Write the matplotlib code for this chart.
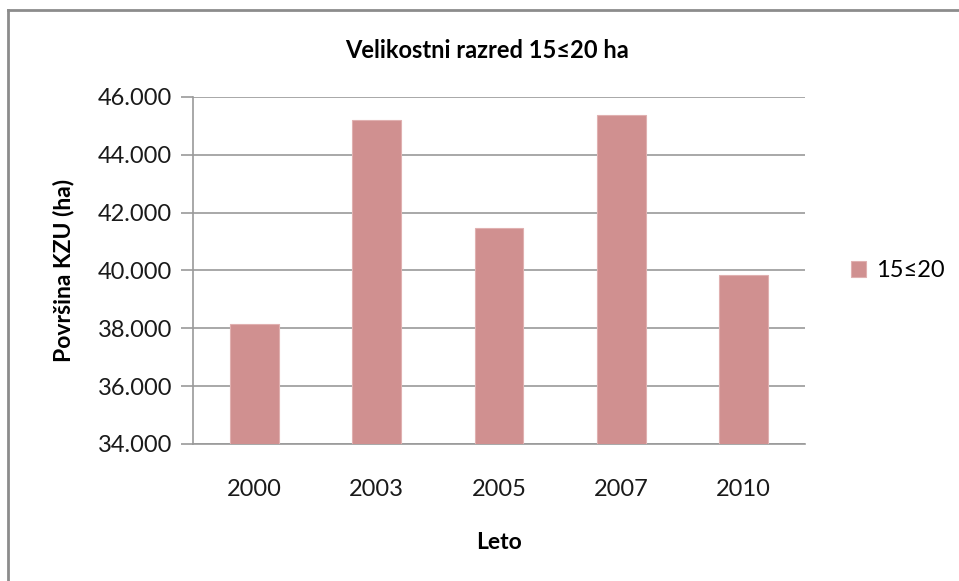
import numpy as np
import matplotlib
matplotlib.use('Agg')
import matplotlib.pyplot as plt
from matplotlib.lines import Line2D
from matplotlib.ticker import FuncFormatter

# podatki
leta = ['2000', '2003', '2005', '2007', '2010']
povrsina = [38150, 45210, 41480, 45380, 39850]
serija = '15≤20'

plt.rcParams['font.family'] = ['Lato', 'DejaVu Sans']

fig = plt.figure(figsize=(9.59, 5.81), dpi=100)
ax = fig.add_axes([193/959, 1 - 444/581, (805 - 193)/959, (444 - 97)/581])

x = np.arange(len(leta))
ax.bar(x, povrsina, width=0.4, color='#d09090', edgecolor='#e0b0b0',
       linewidth=0.8, label=serija, zorder=3)

ax.set_xlim(-0.5, len(leta) - 0.5)
ax.set_ylim(34000, 46000)
ax.set_yticks(np.arange(34000, 46001, 2000))
ax.yaxis.set_major_formatter(FuncFormatter(lambda v, p: '{:,.0f}'.format(v).replace(',', '.')))
ax.set_xticks(x)
ax.set_xticklabels(leta)

ax.grid(axis='y', color='#9a9a9a', linewidth=1.2, zorder=0)
for s in ['top', 'right']:
    ax.spines[s].set_visible(False)
ax.spines['left'].set_color('#9a9a9a')
ax.spines['bottom'].set_color('#9a9a9a')
ax.spines['left'].set_linewidth(1.2)
ax.spines['bottom'].set_linewidth(1.2)
ax.tick_params(axis='y', length=9, width=1.2, color='#9a9a9a', labelsize=17,
               labelcolor='#1a1a1a', pad=6)
ax.tick_params(axis='x', length=0, labelsize=17, labelcolor='#1a1a1a', pad=25)

ax.set_xlabel('Leto', fontsize=16.5, fontweight='bold', labelpad=23)
ax.set_ylabel('Površina KZU (ha)', fontsize=16.5, fontweight='bold', labelpad=17)
fig.text(487/959, 1 - 50/581, 'Velikostni razred 15≤20 ha', fontsize=17,
         fontweight='bold', ha='center', va='center')

ax.legend(loc='center left', bbox_to_anchor=(1.04, 0.5), frameon=False,
          fontsize=17, handlelength=0.65, handleheight=0.65, handletextpad=0.4)

# okvir grafa
fig.add_artist(Line2D([8/959, 8/959], [0, 1 - 10/581], transform=fig.transFigure,
                      color='#8c8c8c', linewidth=2))
fig.add_artist(Line2D([8/959, 1], [1 - 10/581, 1 - 10/581], transform=fig.transFigure,
                      color='#8c8c8c', linewidth=2))

fig.savefig('out.png', dpi=100)
